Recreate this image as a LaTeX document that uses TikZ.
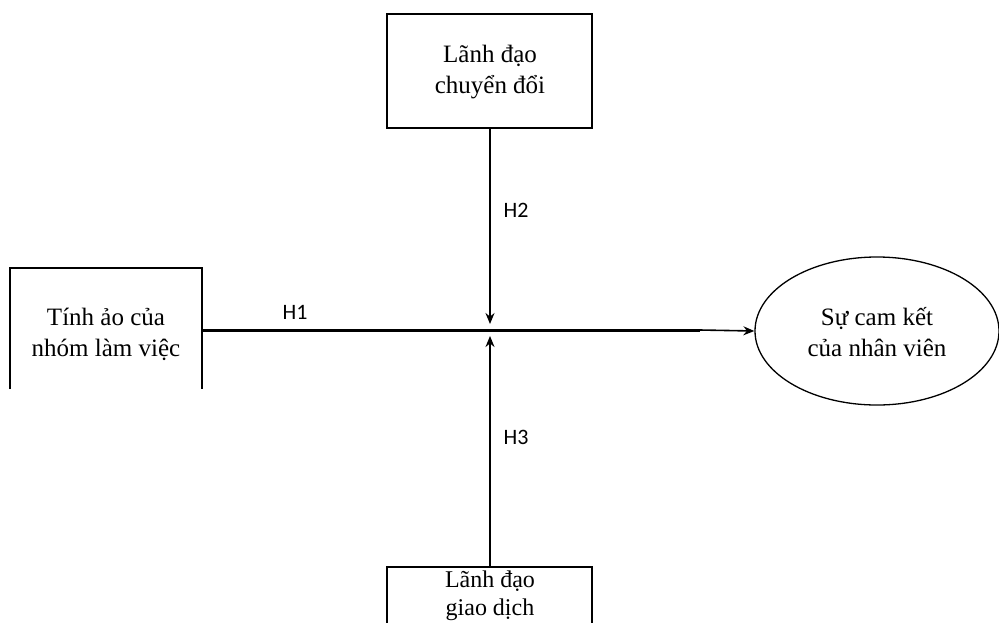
\documentclass[tikz,border=0pt]{standalone}
\usepackage{fontspec}
\setmainfont{Liberation Serif}
\newfontfamily\labelfont{Carlito}
\usetikzlibrary{shapes.geometric,arrows.meta}
\begin{document}
\begin{tikzpicture}[x=1pt,y=-1pt,
  boxtext/.style={align=center,font=\fontsize{25}{31}\selectfont,inner sep=0pt},
  hyp/.style={font=\labelfont\fontsize{22}{26}\selectfont,inner sep=0pt},
  frame/.style={draw=black,line width=1.6pt},
  link/.style={line width=1.6pt,-{Stealth[length=11pt,width=9pt]}}]
\useasboundingbox (0,0) rectangle (999,622);
\clip (0,0) rectangle (999,622);

% left construct (open at the bottom)
\node[boxtext] (L) at (106,334) {Tính ảo của\\nhóm làm việc};
\draw[frame] (10,389) -- (10,268) -- (202,268) -- (202,389);
\coordinate (Lr) at (202,330);

% top moderator
\node[boxtext] (T) at (490,72) {Lãnh đạo\\chuyển đổi};
\draw[frame] (387,14) rectangle (592,128);
\coordinate (Tb) at (490,128);

% bottom moderator (runs off the lower edge)
\node[boxtext,font=\fontsize{24}{28}\selectfont] (B) at (490,596) {Lãnh đạo\\giao dịch};
\draw[frame] (387,630) -- (387,567) -- (592,567) -- (592,630);
\coordinate (Bt) at (490,567);

% outcome
\node[draw,ellipse,line width=1.3pt,minimum width=244pt,minimum height=148pt,inner sep=0pt] (E) at (877,331) {};
\node[boxtext] (Et) at (877,332) {Sự cam kết\\của nhân viên};

% main path and moderating arrows
\draw[line width=3pt] (Lr) -- (700,330);
\draw[link] (700,330) -- (E.west);
\coordinate (mtop) at (490,324);
\coordinate (mbot) at (490,336);
\draw[link] (Tb) -- (mtop);
\draw[link] (Bt) -- (mbot);

% hypothesis labels
\node[hyp] (H1) at (295,312) {H1};
\node[hyp] (H2) at (516,210) {H2};
\node[hyp] (H3) at (516,437) {H3};
\end{tikzpicture}
\end{document}
